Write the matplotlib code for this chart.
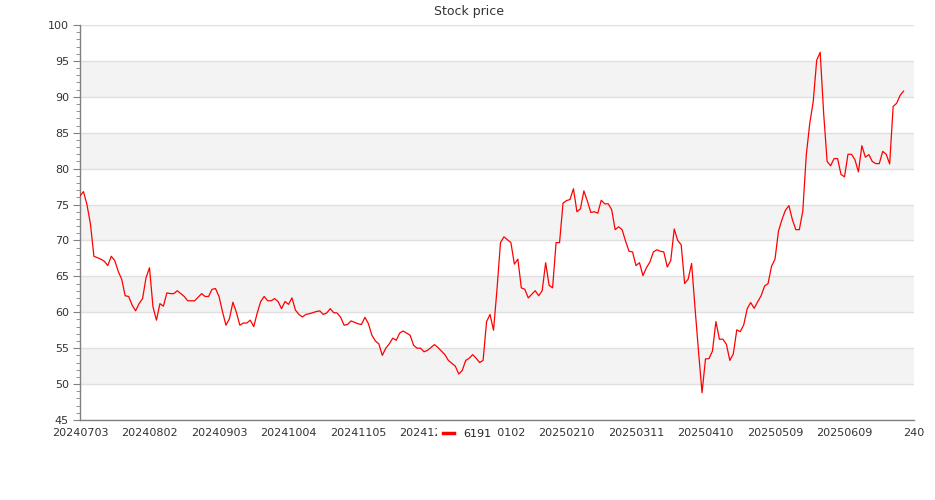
import matplotlib
matplotlib.use("Agg")
import matplotlib.pyplot as plt
from matplotlib.lines import Line2D
from matplotlib.ticker import MultipleLocator

# closing price of 6191, one value per trading day
prices = [
    76.2, 76.8, 75.0, 72.3, 67.8, 67.6, 67.4, 67.1, 66.5, 67.8,
    67.2, 65.7, 64.6, 62.3, 62.2, 61.0, 60.2, 61.2, 61.9, 64.8,
    66.2, 60.75, 58.9, 61.2, 60.85, 62.7, 62.6, 62.6, 63.0, 62.6,
    62.2, 61.6, 61.6, 61.6, 62.1, 62.6, 62.2, 62.2, 63.2, 63.3,
    62.2, 60.1, 58.2, 59.1, 61.4, 60.0, 58.2, 58.5, 58.5, 58.9,
    58.0, 59.9, 61.5, 62.2, 61.6, 61.6, 61.9, 61.5, 60.5, 61.5,
    61.1, 62.0, 60.3, 59.7, 59.35, 59.7, 59.8, 59.95, 60.1, 60.2,
    59.7, 59.9, 60.5, 59.95, 59.9, 59.3, 58.2, 58.3, 58.8, 58.6,
    58.4, 58.3, 59.3, 58.4, 56.8, 56.0, 55.6, 54.0, 55.0, 55.6,
    56.4, 56.1, 57.1, 57.4, 57.1, 56.8, 55.4, 55.0, 55.0, 54.5,
    54.7, 55.1, 55.5, 55.1, 54.6, 54.1, 53.3, 52.9, 52.5, 51.4,
    51.9, 53.3, 53.6, 54.1, 53.6, 53.0, 53.3, 58.7, 59.7, 57.5,
    63.2, 69.7, 70.5, 70.1, 69.7, 66.7, 67.4, 63.4, 63.2, 62.0,
    62.5, 63.0, 62.3, 63.0, 66.9, 63.75, 63.4, 69.7, 69.7, 75.2,
    75.55, 75.7, 77.2, 74.0, 74.4, 76.9, 75.5, 73.9, 74.0, 73.8,
    75.6, 75.1, 75.1, 74.3, 71.5, 71.9, 71.5, 69.9, 68.5, 68.4,
    66.5, 66.9, 65.1, 66.2, 67.0, 68.4, 68.7, 68.5, 68.4, 66.3,
    67.2, 71.6, 70.0, 69.4, 64.0, 64.6, 66.8, 60.5, 54.5, 48.8,
    53.5, 53.55, 54.6, 58.7, 56.25, 56.25, 55.55, 53.3, 54.2, 57.55,
    57.3, 58.25, 60.5, 61.35, 60.55, 61.45, 62.3, 63.65, 64.0, 66.4,
    67.4, 71.3, 72.9, 74.2, 74.85, 72.9, 71.5, 71.5, 74.1, 81.9,
    86.3, 89.35, 95.1, 96.2, 87.7, 81.0, 80.4, 81.4, 81.4, 79.2,
    78.85, 82.0, 82.0, 81.25, 79.55, 83.2, 81.6, 81.95, 81.0, 80.7,
    80.7, 82.4, 82.0, 80.65, 88.65, 89.1, 90.2, 90.8,
]

tick_labels = ["20240703", "20240802", "20240903", "20241004", "20241105",
               "20241205", "20250102", "20250210", "20250311", "20250410",
               "20250509", "20250609", "240"]
tick_step = 20
n_categories = 241

fig = plt.figure(figsize=(9.35, 5), dpi=100)
ax = fig.add_axes([80 / 935, 0.16, 834 / 935, 0.79])

ax.plot(range(len(prices)), prices, color="red", lw=0.9, zorder=3)

ax.set_xlim(0, n_categories - 1)
ax.set_ylim(45, 100)

# alternating background bands + grid
for lo in range(50, 100, 10):
    ax.axhspan(lo, lo + 5, color="#f3f3f3", lw=0, zorder=0)
ax.yaxis.set_major_locator(MultipleLocator(5))
ax.yaxis.set_minor_locator(MultipleLocator(1))
ax.grid(axis="y", color="#e0e0e0", lw=1, zorder=1)
ax.set_axisbelow(True)

ax.set_xticks(range(0, n_categories, tick_step))
ax.set_xticklabels(tick_labels)
ax.tick_params(axis="x", length=0, pad=6, labelsize=8, labelcolor="#333333")
ax.tick_params(axis="y", which="major", length=5, color="#808080",
               labelsize=8, labelcolor="#333333", pad=3)
ax.tick_params(axis="y", which="minor", length=3, color="#808080")

for side in ("top", "right"):
    ax.spines[side].set_visible(False)
for side in ("left", "bottom"):
    ax.spines[side].set_color("#808080")
    ax.spines[side].set_linewidth(1)

fig.text(469 / 935, 1 - 12 / 500, "Stock price", ha="center", va="center",
         fontsize=9, color="#333333")

handle = Line2D([], [], color="red", lw=2.5)
fig.legend([handle], ["6191"], loc="center",
           bbox_to_anchor=(467 / 935, 1 - 434 / 500),
           frameon=True, facecolor="white", edgecolor="none", framealpha=1,
           fancybox=False, fontsize=8, handlelength=1.0, handletextpad=0.8,
           borderpad=0.5, labelcolor="#222222")

fig.savefig("out.png", dpi=100, facecolor="white")
